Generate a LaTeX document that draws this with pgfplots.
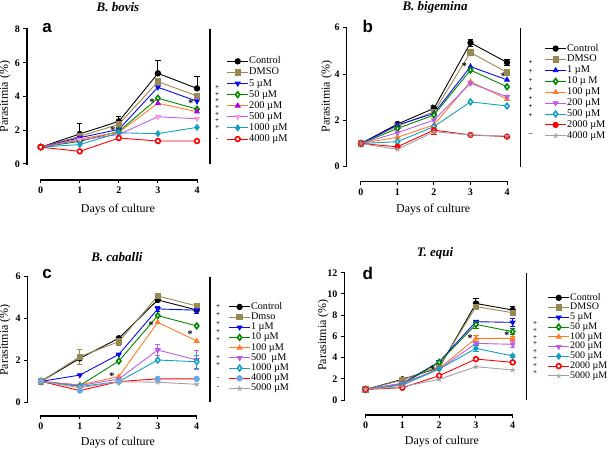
\documentclass[border=0pt]{standalone}
\usepackage{pgfplots}
\pgfplotsset{compat=1.18}
\usepackage{fontspec}
\setmainfont{Liberation Serif}
\newfontfamily\arialf{Liberation Sans}
\definecolor{cOlive}{RGB}{152,136,82}
\definecolor{cBlue}{RGB}{10,10,235}
\definecolor{cGreen}{RGB}{0,135,0}
\definecolor{cOrange}{RGB}{255,125,40}
\definecolor{cPurple}{RGB}{175,0,215}
\definecolor{cViolet}{RGB}{190,90,230}
\definecolor{cPink}{RGB}{255,150,225}
\definecolor{cTeal}{RGB}{20,160,190}
\definecolor{cRed}{RGB}{255,0,0}
\definecolor{cGray}{RGB}{160,160,170}
\definecolor{cLBlue}{RGB}{100,170,235}
\pgfplotsset{
  panel/.style={
    scale only axis, clip=false,
    axis x line*=bottom, axis y line*=left,
    tick align=outside, major tick length=3.5pt,
    every tick/.style={black, line width=1pt},
    xtick={0,1,2,3,4},
    /pgf/number format/assume math mode=true,
    ticklabel style={font=\bfseries\fontsize{10}{10}\selectfont},
    label style={font=\fontsize{12}{12}\selectfont},
    title style={font=\bfseries\itshape\fontsize{13}{13}\selectfont, anchor=center},
    legend cell align=left,
    legend image code/.code={\draw[mark repeat=2,mark phase=2,##1] plot coordinates {(0pt,0pt) (10.5pt,0pt) (21pt,0pt)};},
    every axis plot/.append style={line width=0.9pt, mark size=2.7pt},
    error bars/error bar style={line width=0.9pt},
    error bars/error mark options={rotate=90, mark size=2.6pt, line width=0.9pt},
  },
  sCtrl/.style={black, mark=*, mark options={fill=black}},
  sDmso/.style={cOlive, mark=square*, mark options={fill=cOlive}},
  sBlueD/.style={cBlue, mark=triangle*, mark options={fill=cBlue, rotate=180}},
  sBlueU/.style={cBlue, mark=triangle*, mark options={fill=cBlue}},
  sGreen/.style={cGreen, mark=diamond*, mark options={fill=white, draw=cGreen, line width=1.6pt, mark size=2.8pt}},
  sOrange/.style={cOrange, mark=triangle*, mark options={fill=cOrange}},
  sVioletD/.style={cViolet, mark=triangle*, mark options={fill=cViolet, rotate=180}},
  sTeal/.style={cTeal, mark=diamond*, mark options={fill=cTeal, mark size=3pt}},
  sTealO/.style={cTeal, mark=diamond*, mark options={fill=white, draw=cTeal, line width=1.6pt, mark size=2.8pt}},
  sRedO/.style={cRed, mark=*, mark options={fill=white, draw=cRed, line width=1.6pt, mark size=2.4pt}},
  sRed/.style={cRed, mark=*, mark options={fill=cRed}},
  sGray/.style={cGray, mark=star, mark options={draw=cGray, mark size=2.6pt}},
  lgd/.style={draw=none, fill=none, inner sep=0pt, anchor=north west,
    /tikz/every even column/.append style={column sep=5.5pt}},
  axl/.style={black, line width=1.4pt, no markers, forget plot},
}
\begin{document}
\begin{tikzpicture}
\path[use as bounding box] (0,0) rectangle (610pt,449pt);

% ---------------- panel a ----------------
\begin{axis}[panel, at={(27pt,269pt)}, anchor=south west,
  width=170pt, height=151pt, xmin=-0.35, xmax=4, ymin=-0.948, ymax=8,
  x axis line style={black, line width=1.4pt, shorten <=13.68pt},
  y axis line style={black, line width=1.4pt, shorten <=16pt},
  ytick={0,2,4,6,8},
  title={B. bovis}, title style={at={(axis description cs:0.535,1.106)}},
  xlabel={Days of culture}, xlabel style={at={(axis description cs:0.535,-0.194)}, anchor=center},
  ylabel={Parasitmia (\%)}, ylabel style={at={(axis description cs:-0.129,0.552)}, anchor=center},
  legend style={lgd, at={(axis description cs:1.174,0.824)},
    font=\fontsize{10.3}{11}\selectfont, nodes={inner sep=0.5pt, text height=7.6pt, text depth=2.5pt}},
]
\draw[black, line width=1.2pt] (axis cs:4.33,0) -- (axis cs:4.33,8);
\addplot[axl] coordinates {(-0.35,0) (-0.35,8)};
\addplot[axl] coordinates {(0,-0.948) (4,-0.948)};
\addplot[sCtrl, error bars/.cd, y dir=plus, y explicit] coordinates {(0,1) +- (0,0) (1,1.78) +- (0,0.6) (2,2.53) +- (0,0.3) (3,5.37) +- (0,0.75) (4,4.48) +- (0,0.68)};
\addplot[sDmso] coordinates {(0,1) (1,1.64) (2,2.35) (3,4.88) (4,4.03)};
\addplot[sBlueD] coordinates {(0,1) (1,1.56) (2,2.05) (3,4.55) (4,3.72)};
\addplot[sGreen] coordinates {(0,1) (1,1.34) (2,1.93) (3,3.9) (4,3.25)};
\addplot[cOrange, mark=triangle*, mark options={fill=cPurple, draw=cPurple}] coordinates {(0,1) (1,1.48) (2,1.88) (3,3.6) (4,3.1)};
\addplot[cViolet, mark=triangle*, mark options={fill=cPink, draw=cPink, rotate=180}] coordinates {(0,1) (1,1.42) (2,1.75) (3,2.8) (4,2.68)};
\addplot[sTeal] coordinates {(0,1) (1,1.15) (2,1.85) (3,1.8) (4,2.17)};
\addplot[sRedO] coordinates {(0,1) (1,0.75) (2,1.54) (3,1.36) (4,1.36)};
\legend{Control, DMSO, 5 µM, 50 µM, 200 µM, 500 µM, 1000 µM, 4000 µM}
\node[font=\bfseries\fontsize{10}{10}\selectfont] at (axis cs:1.85,2.01) {*};
\node[font=\bfseries\fontsize{10}{10}\selectfont] at (axis cs:2.85,3.67) {*};
\node[font=\bfseries\fontsize{10}{10}\selectfont] at (axis cs:3.84,3.61) {*};
\end{axis}

% ---------------- panel b ----------------
\begin{axis}[panel, at={(346.7pt,267.3pt)}, anchor=south west,
  width=160.3pt, height=154pt, xmin=-0.39, xmax=4, ymin=-0.647, ymax=6,
  x axis line style={black, line width=1.4pt, shorten <=14.24pt},
  y axis line style={black, line width=1.4pt, shorten <=14.99pt},
  ytick={0,2,4,6},
  title={B. bigemina}, title style={at={(axis description cs:0.551,1.095)}},
  xlabel={Days of culture}, xlabel style={at={(axis description cs:0.539,-0.184)}, anchor=center},
  ylabel={Parasitmia (\%)}, ylabel style={at={(axis description cs:-0.125,0.552)}, anchor=center},
  legend style={lgd, at={(axis description cs:1.234,0.901)},
    font=\fontsize{10.3}{11}\selectfont, nodes={inner sep=0.5pt, text height=7.4pt, text depth=2.5pt}},
]
\draw[black, line width=1.2pt] (axis cs:4.38,0) -- (axis cs:4.38,6);
\addplot[axl] coordinates {(-0.39,0) (-0.39,6)};
\addplot[axl] coordinates {(0,-0.647) (4,-0.647)};
\addplot[sCtrl, error bars/.cd, y dir=both, y explicit] coordinates {(0,1) +- (0,0) (1,1.84) +- (0,0.05) (2,2.52) +- (0,0.05) (3,5.35) +- (0,0.15) (4,4.5) +- (0,0.15)};
\addplot[sDmso] coordinates {(0,1) (1,1.76) (2,2.37) (3,4.93) (4,4.07)};
\addplot[sBlueU] coordinates {(0,1) (1,1.8) (2,2.3) (3,4.32) (4,3.75)};
\addplot[sGreen] coordinates {(0,1) (1,1.65) (2,2.23) (3,4.17) (4,3.45)};
\addplot[sOrange] coordinates {(0,1) (1,1.27) (2,1.8) (3,3.67) (4,2.92)};
\addplot[sVioletD] coordinates {(0,1) (1,1.47) (2,2.01) (3,3.6) (4,3.02)};
\addplot[sTealO] coordinates {(0,1) (1,1.08) (2,1.73) (3,2.8) (4,2.62)};
\addplot[sRed, error bars/.cd, y dir=both, y explicit] coordinates {(0,1) +- (0,0) (1,0.86) +- (0,0.05) (2,1.58) +- (0,0.2) (3,1.37) +- (0,0.05) (4,1.3) +- (0,0.05)};
\addplot[sGray] coordinates {(0,1) (1,0.75) (2,1.51) (3,1.37) (4,1.32)};
\legend{Control, DMSO, 1 µM, 10 µ M, 100 µM, 200 µM, 500 µM, 2000 µM, 4000 µM}
\node[font=\bfseries\fontsize{10}{10}\selectfont] at (axis cs:2.83,4.32) {*};
\node[font=\bfseries\fontsize{10}{10}\selectfont] at (axis cs:3.9,3.91) {*};
\node[font=\bfseries\fontsize{10}{10}\selectfont] at (axis cs:1.96,2.52) {*};
\end{axis}

% ---------------- panel c ----------------
\begin{axis}[panel, at={(27.7pt,33pt)}, anchor=south west,
  width=169pt, height=139.3pt, xmin=-0.34, xmax=4, ymin=-0.654, ymax=6,
  x axis line style={black, line width=1.4pt, shorten <=13.24pt},
  y axis line style={black, line width=1.4pt, shorten <=13.69pt},
  ytick={0,2,4,6},
  title={B. caballi}, title style={at={(axis description cs:0.528,1.101)}},
  xlabel={Days of culture}, xlabel style={at={(axis description cs:0.534,-0.194)}, anchor=center},
  ylabel={Parasitmia (\%)}, ylabel style={at={(axis description cs:-0.134,0.545)}, anchor=center},
  legend style={lgd, at={(axis description cs:1.188,0.821)},
    font=\fontsize{10.2}{11}\selectfont, nodes={inner sep=0.5pt, text height=6.9pt, text depth=2.3pt}},
]
\draw[black, line width=1.2pt] (axis cs:4.34,0) -- (axis cs:4.34,6);
\addplot[axl] coordinates {(-0.34,0) (-0.34,6)};
\addplot[axl] coordinates {(0,-0.654) (4,-0.654)};
\addplot[sCtrl] coordinates {(0,1) (1,2.1) (2,3.06) (3,4.89) (4,4.41)};
\addplot[sDmso, error bars/.cd, y dir=both, y explicit] coordinates {(0,1) +- (0,0) (1,2.18) +- (0,0.35) (2,2.9) +- (0,0.2) (3,5.08) +- (0,0.1) (4,4.6) +- (0,0.1)};
\addplot[sBlueD, error bars/.cd, y dir=both, y explicit] coordinates {(0,1) +- (0,0) (1,1.3) +- (0,0) (2,2.29) +- (0,0) (3,4.46) +- (0,0.1) (4,4.4) +- (0,0.15)};
\addplot[sGreen] coordinates {(0,1) (1,0.8) (2,1.97) (3,4.14) (4,3.65)};
\addplot[sOrange] coordinates {(0,1) (1,0.83) (2,1.23) (3,3.82) (4,2.93)};
\addplot[sVioletD, error bars/.cd, y dir=both, y explicit] coordinates {(0,1) +- (0,0) (1,0.8) +- (0,0) (2,1.11) +- (0,0) (3,2.5) +- (0,0.25) (4,2.02) +- (0,0.45)};
\addplot[sTealO, error bars/.cd, y dir=both, y explicit] coordinates {(0,1) +- (0,0) (1,0.75) +- (0,0) (2,0.99) +- (0,0) (3,2.02) +- (0,0) (4,1.94) +- (0,0.3)};
\addplot[cRed, mark=*, mark options={fill=cLBlue, draw=cLBlue}] coordinates {(0,1) (1,0.56) (2,0.99) (3,1.12) (4,1.12)};
\addplot[sGray] coordinates {(0,1) (1,0.7) (2,0.98) (3,0.96) (4,0.86)};
\legend{Control, Dmso, 1 µM, 10 µM, 100 µM, 500\ \ µM, 1000 µM, 4000 µM, 5000 µM}
\node[font=\bfseries\fontsize{10}{10}\selectfont] at (axis cs:1.82,1.27) {*};
\node[font=\bfseries\fontsize{10}{10}\selectfont] at (axis cs:2.83,3.66) {*};
\node[font=\bfseries\fontsize{10}{10}\selectfont] at (axis cs:3.83,3.25) {*};
\end{axis}

% ---------------- panel d ----------------
\begin{axis}[panel, at={(344.3pt,34pt)}, anchor=south west,
  width=168.4pt, height=142.3pt, xmin=-0.58, xmax=4, ymin=-1.41, ymax=12,
  x axis line style={black, line width=1.4pt, shorten <=21.33pt},
  y axis line style={black, line width=1.4pt, shorten <=14.96pt},
  ytick={0,2,4,6,8,10,12},
  title={T. equi}, title style={at={(axis description cs:0.539,1.092)}},
  xlabel={Days of culture}, xlabel style={at={(axis description cs:0.58,-0.188)}, anchor=center},
  ylabel={Parasitmia (\%)}, ylabel style={at={(axis description cs:-0.125,0.562)}, anchor=center},
  legend style={lgd, at={(axis description cs:1.207,0.859)},
    font=\fontsize{10}{10.5}\selectfont, nodes={inner sep=0.5pt, text height=6.6pt, text depth=2.15pt}},
]
\draw[black, line width=1.2pt] (axis cs:4.38,0) -- (axis cs:4.38,12);
\addplot[axl] coordinates {(-0.58,0) (-0.58,12)};
\addplot[axl] coordinates {(0,-1.41) (4,-1.41)};
\addplot[sCtrl, error bars/.cd, y dir=both, y explicit] coordinates {(0,1) +- (0,0) (1,1.95) +- (0,0.1) (2,3.05) +- (0,0.1) (3,9.1) +- (0,0.45) (4,8.48) +- (0,0.35)};
\addplot[sDmso] coordinates {(0,1) (1,1.89) (2,3.14) (3,8.8) (4,8.23)};
\addplot[sBlueD, error bars/.cd, y dir=both, y explicit] coordinates {(0,1) +- (0,0) (1,1.57) +- (0,0) (2,3.6) +- (0,0.15) (3,7.38) +- (0,0.1) (4,7.32) +- (0,0.35)};
\addplot[sGreen, error bars/.cd, y dir=both, y explicit] coordinates {(0,1) +- (0,0) (1,1.48) +- (0,0) (2,3.55) +- (0,0.1) (3,7.13) +- (0,0.35) (4,6.44) +- (0,0.3)};
\addplot[sOrange, error bars/.cd, y dir=both, y explicit] coordinates {(0,1) +- (0,0) (1,1.48) +- (0,0) (2,2.98) +- (0,0) (3,5.81) +- (0,0.3) (4,5.81) +- (0,0.2)};
\addplot[sVioletD, error bars/.cd, y dir=both, y explicit] coordinates {(0,1) +- (0,0) (1,1.57) +- (0,0) (2,2.92) +- (0,0) (3,5.34) +- (0,0.1) (4,5.25) +- (0,0.3)};
\addplot[sTeal, error bars/.cd, y dir=both, y explicit] coordinates {(0,1) +- (0,0) (1,1.41) +- (0,0) (2,2.92) +- (0,0) (3,4.87) +- (0,0.25) (4,4.15) +- (0,0.1)};
\addplot[sRedO] coordinates {(0,1) (1,1.16) (2,2.29) (3,3.86) (4,3.55)};
\addplot[sGray] coordinates {(0,1) (1,1.26) (2,1.95) (3,3.14) (4,2.83)};
\legend{Control, DMSO, 5 µM, 50 µM, 100 µM, 200 µM, 500 µM, 2000 µM, 5000 µM}
\node[font=\bfseries\fontsize{10}{10}\selectfont] at (axis cs:1.82,2.92) {*};
\node[font=\bfseries\fontsize{10}{10}\selectfont] at (axis cs:2.84,5.81) {*};
\node[font=\bfseries\fontsize{10}{10}\selectfont] at (axis cs:3.84,6.13) {*};
\end{axis}

% ---------------- annotations and axis lines in pixel coordinates ----------------
\begin{scope}[x=1pt, y=-1pt, shift={(0pt,449pt)}]
  \fill[black] (26.3,164.7) rectangle (27.7,28.3);
  \fill[black] (40,179.3) rectangle (197.7,180.7);
  \fill[black] (346,167.4) rectangle (347.4,27);
  \fill[black] (360.2,181) rectangle (507.7,182.4);
  \fill[black] (27,403) rectangle (28.4,276);
  \fill[black] (40.2,415.3) rectangle (197.4,416.7);
  \fill[black] (343.6,400.7) rectangle (345,272);
  \fill[black] (364.9,414.3) rectangle (513.4,415.7);
  \tikzset{pl/.style={font=\bfseries\fontsize{7}{7}\selectfont, inner sep=0pt},
           lab/.style={font=\arialf\bfseries\fontsize{17}{17}\selectfont, inner sep=0pt}}
  \node[lab] at (47,27.8) {a};
  \node[lab] at (367.8,26.2) {b};
  \node[lab] at (47,274.5) {c};
  \node[lab] at (367.8,273.3) {d};
  \foreach \y in {87.7,94.3,101,107.7,114.3,121,127.7} {\node[pl] at (217,\y) {+};}
  \node[pl] at (217,139.5) {-};
  \foreach \y in {62.7,71.7,80.7,89.3,98.3,106.7,115.7} {\node[pl] at (530.7,\y) {+};}
  \node[pl] at (530.7,134.3) {--};
  \foreach \y in {306.7,314.3,323.3,331.7,340,357.7,365} {\node[pl] at (218,\y) {+};}
  \node[pl] at (218,378.3) {-};
  \node[pl] at (218,387.3) {-};
  \foreach \y in {323.3,330.7,337.3,344,351.7,358.3,365.7,372.7} {\node[pl] at (535,\y) {+};}
\end{scope}
\end{tikzpicture}
\end{document}
